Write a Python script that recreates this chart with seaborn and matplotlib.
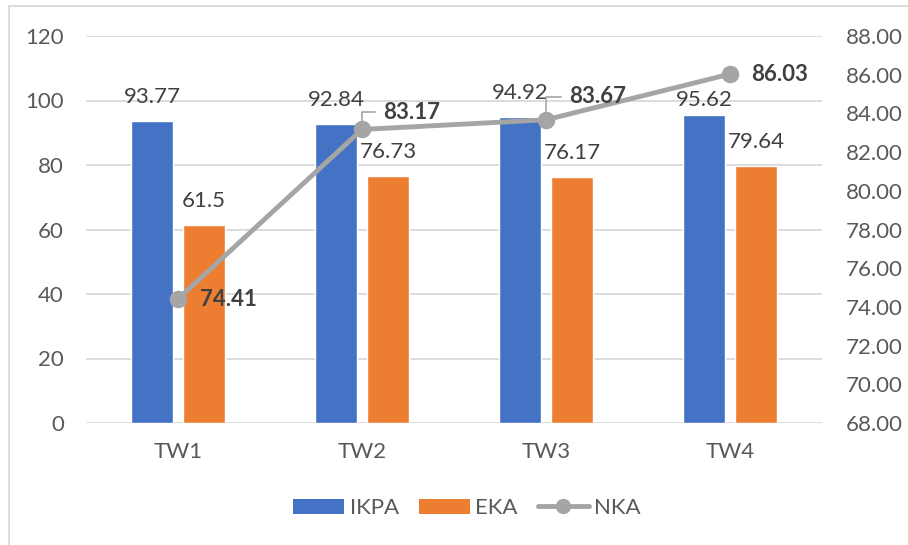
import matplotlib
matplotlib.use("Agg")
import matplotlib.pyplot as plt
import seaborn as sns
import pandas as pd
from matplotlib.patches import Patch, Rectangle
from matplotlib.lines import Line2D

# Quarterly values
periods = ["TW1", "TW2", "TW3", "TW4"]
ikpa = [93.77, 92.84, 94.92, 95.62]
eka = [61.5, 76.73, 76.17, 79.64]
nka = [74.41, 83.17, 83.67, 86.03]
series_names = ["IKPA", "EKA", "NKA"]
left_ticks = [0, 20, 40, 60, 80, 100, 120]
right_ticks = [68, 70, 72, 74, 76, 78, 80, 82, 84, 86, 88]

sns.set_theme(style="white")
plt.rcParams["font.family"] = ["Lato", "DejaVu Sans"]

BLUE = "#4472C4"
ORANGE = "#ED7D31"
GRAY = "#A5A5A5"
GRID = "#D9D9D9"
TICK = "#595959"
LABEL = "#404040"
FS = 16

bars = pd.DataFrame({
    "period": periods * 2,
    "series": [series_names[0]] * len(periods) + [series_names[1]] * len(periods),
    "value": ikpa + eka,
})

fig = plt.figure(figsize=(9.08, 5.45), dpi=100)
ax = fig.add_axes([86 / 908, 1 - 423 / 545, (822 - 86) / 908, (423 - 36) / 545])

sns.barplot(data=bars, x="period", y="value", hue="series",
            palette=[BLUE, ORANGE], width=0.565, gap=0.186, saturation=1,
            errorbar=None, legend=False, ax=ax, zorder=2)

bar_texts = []
for cont, vals in zip(ax.containers, [ikpa, eka]):
    bar_texts.append(ax.bar_label(cont, labels=[f"{v:g}" for v in vals], padding=10,
                                  fontsize=FS, color=LABEL))
# last IKPA label sits lower, just under the NKA line
bar_texts[0][-1].xyann = (0, 3)

ax.set_ylim(0, 120)
ax.set_yticks(left_ticks)
ax.set_yticklabels([str(t) for t in left_ticks])
ax.grid(axis="y", color=GRID, lw=1.3)
ax.set_axisbelow(True)
ax.set_xlabel("")
ax.set_ylabel("")
ax.tick_params(axis="y", length=0, pad=16, labelsize=FS, labelcolor=TICK)
ax.tick_params(axis="x", length=0, pad=14, labelsize=FS, labelcolor=TICK)
for s in ax.spines.values():
    s.set_visible(False)

ax2 = ax.twinx()
sns.pointplot(x=periods, y=nka, color=GRAY, markers="o", markersize=10,
              linewidth=3.5, errorbar=None, ax=ax2)
ax2.set_ylim(68, 88)
ax2.set_yticks(right_ticks)
ax2.set_yticklabels([f"{t:.2f}" for t in right_ticks])
ax2.tick_params(axis="y", length=0, pad=17, labelsize=FS, labelcolor=TICK)
ax2.set_ylabel("")
ax2.grid(False)
for s in ax2.spines.values():
    s.set_visible(False)
ax.set_xlim(-0.5, 3.5)
ax2.set_xlim(-0.5, 3.5)
ax.set_xticks(range(len(periods)))
ax.set_xticklabels(periods)

# NKA value labels, two of them with leader lines
offsets = [(50, -1), (50, 17), (52, 23), (50, 0)]
leaders = [False, True, True, False]
for i, (v, off, lead) in enumerate(zip(nka, offsets, leaders)):
    kw = {}
    if lead:
        kw["arrowprops"] = dict(arrowstyle="-", color=GRAY, lw=1.2,
                                connectionstyle="angle,angleA=0,angleB=90,rad=0",
                                shrinkA=4, shrinkB=6)
    ax2.annotate(f"{v:.2f}", xy=(i, v), xytext=off, textcoords="offset pixels",
                 ha="center", va="center", fontsize=FS, fontweight="bold",
                 color=LABEL, **kw)

# Chart frame
fig.add_artist(Rectangle((9 / 908, -0.1), 1.1, 1 - 6 / 545 + 0.1,
                         transform=fig.transFigure, fill=False,
                         edgecolor=GRID, lw=1.3))

handles = [
    Patch(facecolor=BLUE, edgecolor="none"),
    Patch(facecolor=ORANGE, edgecolor="none"),
    Line2D([0], [0], color=GRAY, lw=3.5, marker="o", markersize=10,
           solid_capstyle="round"),
]
fig.legend(handles, series_names, loc="center", bbox_to_anchor=(467 / 908, 1 - 508 / 545),
           ncol=3, frameon=False, fontsize=FS, handlelength=2.3, handleheight=0.65,
           columnspacing=0.9, handletextpad=0.25, labelcolor=TICK,
           borderpad=0, borderaxespad=0)

fig.savefig("out.png", dpi=100)
